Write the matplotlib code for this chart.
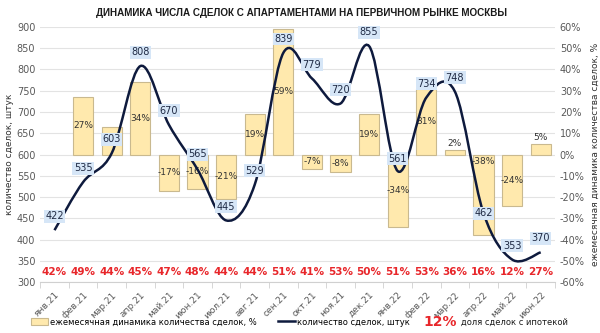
import numpy as np
import matplotlib
matplotlib.use("Agg")
import matplotlib.pyplot as plt
from matplotlib.path import Path
from matplotlib.patches import PathPatch, Patch
from matplotlib.lines import Line2D

plt.rcParams['font.family'] = ['DejaVu Sans']

months = ['янв.21', 'фев.21', 'мар.21', 'апр.21', 'май.21', 'июн.21', 'июл.21', 'авг.21', 'сен.21',
          'окт.21', 'ноя.21', 'дек.21', 'янв.22', 'фев.22', 'мар.22', 'апр.22', 'май.22', 'июн.22']
deals = [422, 535, 603, 808, 670, 565, 445, 529, 839, 779, 720, 855, 561, 734, 748, 462, 353, 370]
change = [np.nan, 27, 13, 34, -17, -16, -21, 19, 59, -7, -8, 19, -34, 31, 2, -38, -24, 5]
mortgage = [42, 49, 44, 45, 47, 48, 44, 44, 51, 41, 53, 50, 51, 53, 36, 16, 12, 27]

# label offsets (points) for the deal labels
lbl_dy = [10, 10, 10, 10, 10, 11, 10, 10, 10, 10, 10, 10, 9, 10, 10, 0, 10, 10]

grey = '#595959'
bar_fc = '#FFE9AD'
bar_ec = '#C9B98F'
navy = '#0E1A3D'

fig = plt.figure(figsize=(6, 3.33), dpi=100)
ax = fig.add_axes([0.067, 0.153, 0.858, 0.766])
ax2 = ax.twinx()

x = np.arange(len(months))

# bars on right axis
ax2.bar(x, change, width=0.7, color=bar_fc, edgecolor=bar_ec, linewidth=0.8, zorder=2)
ax2.set_ylim(-60, 60)
ax2.set_yticks(np.arange(-60, 61, 10))
ax2.set_yticklabels([f'{v}%' for v in range(-60, 61, 10)])
ax2.grid(axis='y', color='#E3E3E3', linewidth=0.8, zorder=0)
ax2.set_axisbelow(True)
for i, v in enumerate(change):
    if np.isnan(v) or i == 2:
        continue
    if abs(v) < 8 and v > 0:
        y, va = v + 1, 'bottom'
    elif v == -38:
        y, va = -3.5, 'center'
    else:
        y, va = v / 2, 'center'
    ax2.text(i, y, f'{int(v)}%', ha='center', va=va, fontsize=6.5, color='#333333', zorder=3)

# smooth line on left axis (bezier through data points)
pts = np.column_stack([x, deals]).astype(float)
verts = [tuple(pts[0])]
codes = [Path.MOVETO]
n = len(pts)
for i in range(n - 1):
    p0 = pts[max(i - 1, 0)]
    p1 = pts[i]
    p2 = pts[i + 1]
    p3 = pts[min(i + 2, n - 1)]
    c1 = p1 + (p2 - p0) / 6
    c2 = p2 - (p3 - p1) / 6
    verts += [tuple(c1), tuple(c2), tuple(p2)]
    codes += [Path.CURVE4] * 3
ax.add_patch(PathPatch(Path(verts, codes), fill=False, edgecolor=navy, linewidth=1.8, zorder=4))

for i, v in enumerate(deals):
    ax.annotate(str(v), (i, v), xytext=(0, lbl_dy[i]), textcoords='offset points',
                ha='center', va='center', fontsize=7, color='#1F2A44', zorder=6,
                bbox=dict(boxstyle='square,pad=0.15', fc='#D6E6F7', ec='none'))

for i, v in enumerate(mortgage):
    ax.text(i, 324, f'{v}%', ha='center', va='center', fontsize=7.5, color='#E8262A',
            fontweight='bold', zorder=6)

ax.set_zorder(ax2.get_zorder() + 1)
ax.patch.set_visible(False)
ax.set_ylim(300, 900)
ax.set_yticks(range(300, 901, 50))
ax.set_xlim(-0.5, len(months) - 0.5)
ax.set_xticks(x)
ax.set_xticklabels(months, rotation=45, ha='right', rotation_mode='anchor', fontsize=6.5, color=grey)
ax.set_xticks(np.arange(-0.5, len(months), 1), minor=True)
ax.tick_params(axis='x', which='major', length=0, pad=6)
ax.tick_params(axis='x', which='minor', length=4, color='#D0D0D0')
ax.tick_params(axis='y', length=0, labelsize=7, labelcolor=grey)
ax2.tick_params(axis='y', length=0, labelsize=7, labelcolor=grey)
for a in (ax, ax2):
    for s in a.spines.values():
        s.set_visible(False)
ax.spines['bottom'].set_visible(True)
ax.spines['bottom'].set_color('#D0D0D0')

ax.set_ylabel('количество сделок, штук', fontsize=6.5, color='#333333', labelpad=2)
ax2.set_ylabel('ежемесячная динамика количества сделок, %', fontsize=6.5, color='#333333', labelpad=4)

fig.text(0.503, 0.962, 'ДИНАМИКА ЧИСЛА СДЕЛОК С АПАРТАМЕНТАМИ НА ПЕРВИЧНОМ РЫНКЕ МОСКВЫ',
         ha='center', va='center', fontsize=7.1, fontweight='bold', color='#1A1A1A',
         family=['Liberation Sans'])

handles = [Patch(fc=bar_fc, ec=bar_ec, lw=0.8),
           Line2D([0], [0], color=navy, lw=1.8)]
fig.legend(handles, ['ежемесячная динамика количества сделок, %', 'количество сделок, штук'],
           loc='center left', bbox_to_anchor=(0.045, 0.033), ncol=2, frameon=False, fontsize=6,
           handlelength=2.0, handleheight=0.8, columnspacing=2.5, handletextpad=0.3, borderpad=0)
fig.text(0.706, 0.033, '12%', ha='left', va='center', fontsize=10, color='#E8262A', fontweight='bold')
fig.text(0.768, 0.033, 'доля сделок с ипотекой', ha='left', va='center', fontsize=6, color='#1A1A1A')

fig.savefig('out.png', dpi=100)
